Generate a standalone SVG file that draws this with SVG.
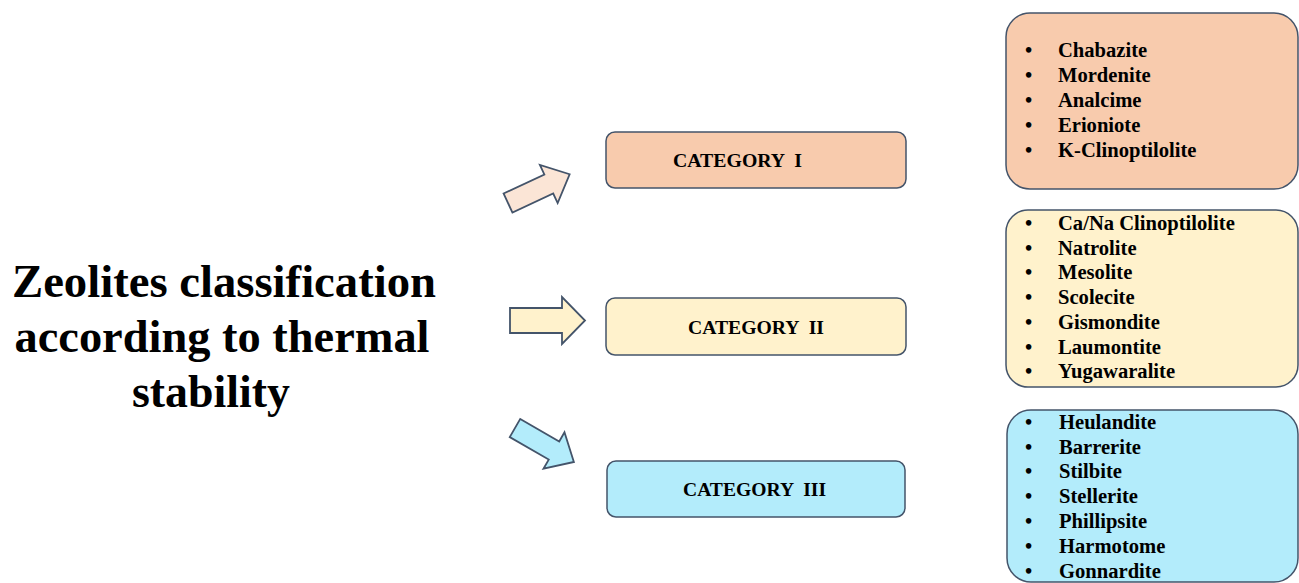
<svg xmlns="http://www.w3.org/2000/svg" width="1299" height="583" viewBox="0 0 1299 583">
<style>
.title{font-family:"Liberation Serif","Times New Roman",serif;font-weight:bold;font-size:46px;fill:#000;text-anchor:middle}
.cat{font-family:"Liberation Serif","Times New Roman",serif;font-weight:bold;font-size:19px;fill:#000;white-space:pre}
.item{font-family:"Liberation Serif","Times New Roman",serif;font-weight:bold;font-size:20.6px;fill:#000}
.box{stroke:#44546A;stroke-width:1.5}
.arrow{stroke:#44546A;stroke-width:1.8;stroke-linejoin:miter}
</style>
<defs>
<polygon id="arr" points="0,-10.5 45,-10.5 45,-21 68,0 45,21 45,10.5 0,10.5"/>
</defs>
<rect width="1299" height="583" fill="#fff"/>

<g id="title">
<text class="title" x="224" y="297" textLength="424" lengthAdjust="spacingAndGlyphs">Zeolites classification</text>
<text class="title" x="222" y="352" textLength="415" lengthAdjust="spacingAndGlyphs">according to thermal</text>
<text class="title" x="211" y="407" textLength="158" lengthAdjust="spacingAndGlyphs">stability</text>
</g>

<g id="connectors">
<use href="#arr" class="arrow" fill="#FBE5D6" transform="translate(508,203) rotate(-25)"/>
<polygon class="arrow" fill="#FFF2CC" points="510,308 562,308 562,297 585,320.5 562,344 562,333 510,333"/>
<use href="#arr" class="arrow" fill="#B3ECFB" transform="translate(515,428) rotate(30)"/>
</g>

<g id="cat1">
<rect class="box" x="606" y="132" width="300" height="56" rx="9" fill="#F8CBAD"/>
<text class="cat" xml:space="preserve" x="673" y="167" textLength="129" lengthAdjust="spacingAndGlyphs">CATEGORY  I</text>
</g>
<g id="cat2">
<rect class="box" x="606" y="298" width="300" height="57" rx="9" fill="#FFF2CC"/>
<text class="cat" xml:space="preserve" x="688" y="334" textLength="136" lengthAdjust="spacingAndGlyphs">CATEGORY  II</text>
</g>
<g id="cat3">
<rect class="box" x="607" y="461" width="298" height="56" rx="9" fill="#B3ECFB"/>
<text class="cat" xml:space="preserve" x="683" y="496" textLength="143" lengthAdjust="spacingAndGlyphs">CATEGORY  III</text>
</g>

<g id="list1">
<rect class="box" x="1006" y="13" width="292" height="176" rx="24" fill="#F8CBAD"/>
<g class="item">
<text x="1025" y="57">•</text><text x="1058" y="57">Chabazite</text>
<text x="1025" y="82">•</text><text x="1058" y="82">Mordenite</text>
<text x="1025" y="107">•</text><text x="1058" y="107">Analcime</text>
<text x="1025" y="132">•</text><text x="1058" y="132">Erioniote</text>
<text x="1025" y="157">•</text><text x="1058" y="157">K-Clinoptilolite</text>
</g>
</g>

<g id="list2">
<rect class="box" x="1006" y="210" width="292" height="177" rx="22" fill="#FFF2CC"/>
<g class="item">
<text x="1025" y="230">•</text><text x="1058" y="230">Ca/Na Clinoptilolite</text>
<text x="1025" y="255">•</text><text x="1058" y="255">Natrolite</text>
<text x="1025" y="279">•</text><text x="1058" y="279">Mesolite</text>
<text x="1025" y="304">•</text><text x="1058" y="304">Scolecite</text>
<text x="1025" y="329">•</text><text x="1058" y="329">Gismondite</text>
<text x="1025" y="354">•</text><text x="1058" y="354">Laumontite</text>
<text x="1025" y="378">•</text><text x="1058" y="378">Yugawaralite</text>
</g>
</g>

<g id="list3">
<rect class="box" x="1007" y="410" width="291" height="172" rx="24" fill="#B3ECFB"/>
<g class="item">
<text x="1025" y="429">•</text><text x="1059" y="429">Heulandite</text>
<text x="1025" y="454">•</text><text x="1059" y="454">Barrerite</text>
<text x="1025" y="478">•</text><text x="1059" y="478">Stilbite</text>
<text x="1025" y="503">•</text><text x="1059" y="503">Stellerite</text>
<text x="1025" y="528">•</text><text x="1059" y="528">Phillipsite</text>
<text x="1025" y="553">•</text><text x="1059" y="553">Harmotome</text>
<text x="1025" y="578">•</text><text x="1059" y="578">Gonnardite</text>
</g>
</g>
</svg>
